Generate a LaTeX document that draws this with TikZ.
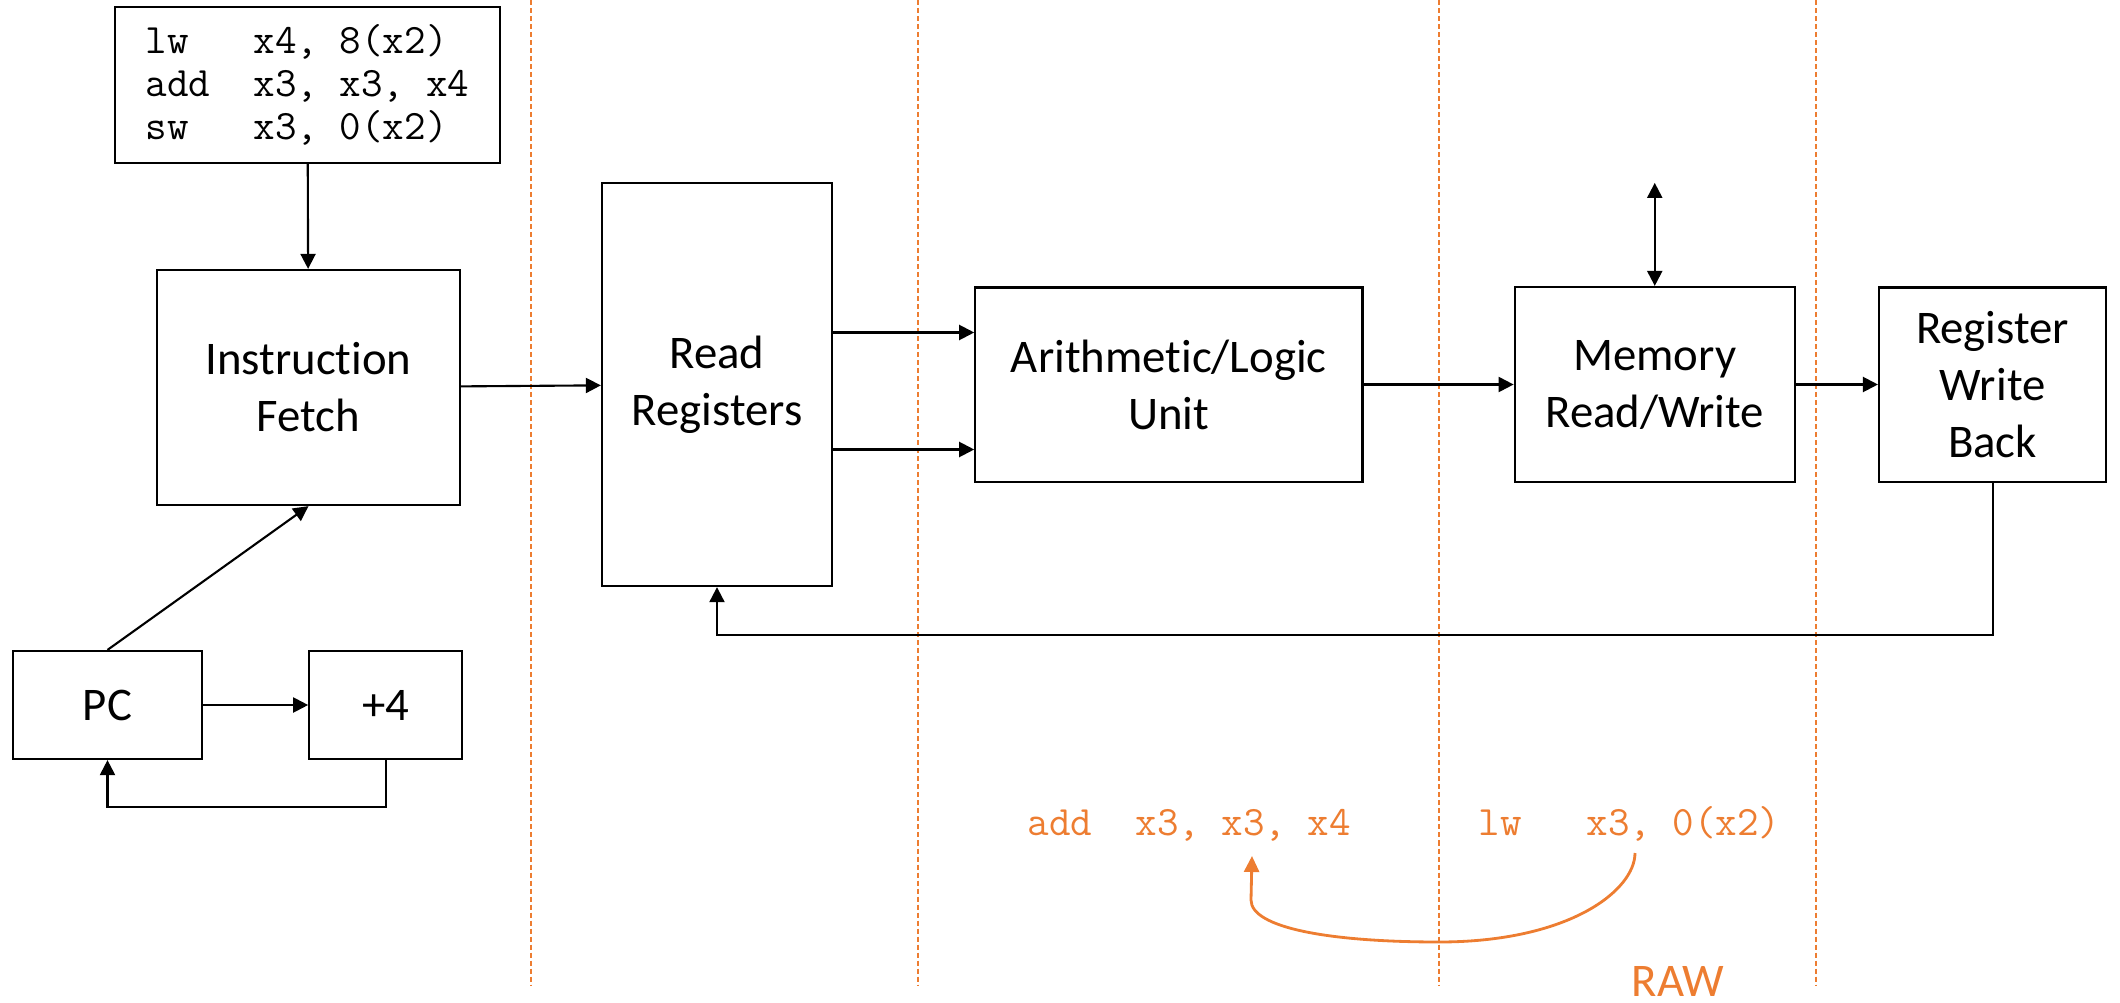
\documentclass[tikz,border=0pt]{standalone}
\usepackage{fontspec}
\setmainfont{Carlito}[Ligatures=CommonOff]
\usetikzlibrary{arrows.meta,positioning,calc}
\definecolor{rawor}{RGB}{237,125,49}
\newcommand\blockfont{\fontsize{13.3pt}{16.2pt}\selectfont}
\newcommand\asmfont{\ttfamily\fontsize{11.9pt}{12.3pt}\selectfont}
\tikzset{
    line/.style    = {-{Triangle[length=1.5mm,width=1.5mm]}, line width=0.6pt, draw=black},
    dline/.style   = {{Triangle[length=1.5mm,width=1.5mm]}-{Triangle[length=1.5mm,width=1.5mm]},
            line width=0.6pt, draw=black},
    block/.style   = {draw=black, line width=0.6pt, fill=white,
            align=center, inner sep=0pt, font=\blockfont},
    codebox/.style = {draw=black, line width=0.6pt, fill=white,
            align=left, inner sep=0pt, font=\asmfont},
    stage/.style   = {draw=rawor, line width=0.4pt, dash pattern=on 0.05cm off 0.03cm},
    asmtext/.style = {inner sep=0pt, text=rawor, font=\asmfont},
    rawtext/.style = {inner sep=0pt, text=rawor, font=\blockfont},
    rawline/.style = {-{Triangle[length=1.6mm,width=1.5mm]}, line width=0.8pt, draw=rawor},
}
\begin{document}
\begin{tikzpicture}[x=0.01cm, y=-0.01cm]
    \useasboundingbox (0,0) rectangle (2120,1003);
    % stage borders
    \foreach \sx in {531,918,1439,1816}
        \draw[stage] (\sx,0) -- (\sx,985);

    % Nodes
    \node[codebox, minimum width=3.85cm, minimum height=1.56cm] (code) at (307.5,85)
        {lw~~~x4, 8(x2)\\add~~x3, x3, x4\\sw~~~x3, 0(x2)};
    \node[block, minimum width=3.03cm, minimum height=2.35cm] (IF) at (308.5,387.5) {Instruction\\Fetch};
    \node[block, minimum width=1.89cm, minimum height=1.08cm] (PC) at (107.5,705) {PC};
    \node[block, minimum width=1.53cm, minimum height=1.08cm, right=1.05cm of PC] (plus4) {+4};
    \node[block, minimum width=2.30cm, minimum height=4.03cm] (RR) at (717,384.5) {Read\\Registers};
    \node[block, minimum width=3.87cm, minimum height=1.94cm, right=1.41cm of RR] (ALU) {Arithmetic/Logic\\Unit};
    \node[block, minimum width=2.80cm, minimum height=1.95cm, right=1.50cm of ALU] (Mem) {Memory\\Read/Write};
    \node[block, minimum width=2.27cm, minimum height=1.94cm, right=0.82cm of Mem] (RWB) {Register\\Write\\Back};

    % Arrows
    \draw[line] (code) -- (IF);
    \draw[line] (PC.north) -- (IF.south);
    \draw[line] (PC) -- (plus4);
    \draw[line] (plus4.south) -- ++(0,47) -| (PC.south);
    \draw[line] (IF) -- (RR);
    \coordinate (rr_a) at ($(RR.east)+(0,-52)$);
    \coordinate (rr_b) at ($(RR.east)+(0,65)$);
    \draw[line] (rr_a) -- (rr_a -| ALU.west);
    \draw[line] (rr_b) -- (rr_b -| ALU.west);
    \draw[line] (ALU) -- (Mem);
    \draw[line] (Mem) -- (RWB);
    \coordinate (mem_bus) at ($(Mem.north)+(0,-103)$);
    \draw[dline] (mem_bus) -- (Mem.north);
    \draw[line] (RWB.south) -- ++(0,152) -| (RR.south);

    % hazard
    \node[asmtext, anchor=base west] (addline) at (1027,835) {add~~x3, x3, x4};
    \node[asmtext, anchor=base west] (lwline) at (1478,835) {lw~~~x3, 0(x2)};
    \coordinate (raw_from) at (1635,853);
    \coordinate (raw_to) at (1252,856);
    \draw[rawline] (raw_from) .. controls (1635,890) and (1570,942) .. (1439,942)
        .. controls (1330,942) and (1251,928) .. (1251,900) -- (raw_to);
    \node[rawtext, anchor=base] (raw) at (1678,996) {RAW};
\end{tikzpicture}
\end{document}
